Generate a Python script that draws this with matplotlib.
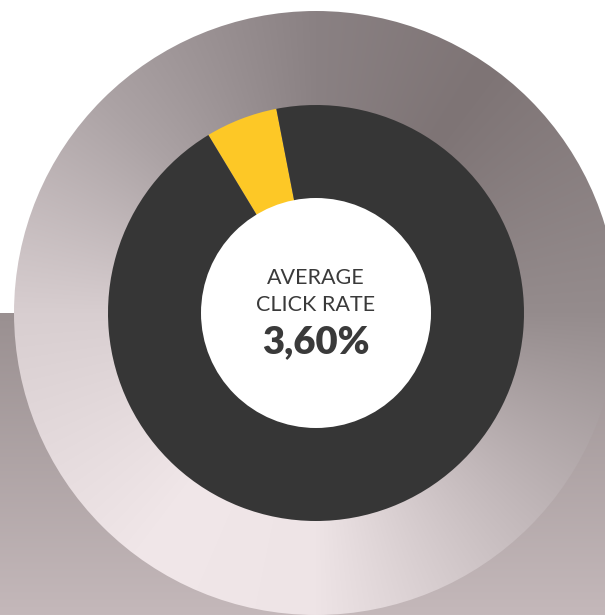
import numpy as np
import matplotlib.pyplot as plt
from matplotlib.patches import Circle
from matplotlib.colors import to_rgb

# 数据
segment_labels = ['clicks', 'rest']
segment_values = [5.6, 94.4]
segment_colors = ['#FDC826', '#363636']
title_lines = ['AVERAGE', 'CLICK RATE']
rate_text = '3,60%'

W, H = 605, 615
fig = plt.figure(figsize=(W / 100, H / 100), dpi=100)
ax = fig.add_axes([0, 0, 1, 1])

cx, cy = 316, H - 313   # 圆心 (像素坐标转换, y 向上)
R_big = 302
R_out = 208
R_in = 115

# 背景下半部分的灰色渐变矩形
rect_top = H - 313
g = np.linspace(0, 1, 256)[:, None]
c_top = np.array(to_rgb('#9A9091'))
c_bot = np.array(to_rgb('#C4B8BA'))
rect_img = c_bot[None, None, :] * (1 - g[..., None]) + c_top[None, None, :] * g[..., None]
rect_img = np.repeat(rect_img, 2, axis=1)
ax.imshow(rect_img, extent=[0, W, 0, rect_top], origin='lower', aspect='auto', zorder=1)

# 大圆: 角度渐变
n = 700
xs = np.linspace(cx - R_big, cx + R_big, n)
ys = np.linspace(cy - R_big, cy + R_big, n)
X, Y = np.meshgrid(xs, ys)
ang = np.degrees(np.arctan2(Y - cy, X - cx)) % 360
stops_a = [0, 55, 90, 135, 180, 235, 270, 315, 360]
stops_c = ['#958C8D', '#7E7475', '#8A8183', '#ACA3A5', '#D8CED0',
           '#F1E7E9', '#EEE4E6', '#C3B9BB', '#958C8D']
stops_rgb = np.array([to_rgb(c) for c in stops_c])
img = np.dstack([np.interp(ang, stops_a, stops_rgb[:, k]) for k in range(3)])
im = ax.imshow(img, extent=[cx - R_big, cx + R_big, cy - R_big, cy + R_big],
               origin='lower', zorder=2)
clip = Circle((cx, cy), R_big, transform=ax.transData)
im.set_clip_path(clip)

# 环形图
wedges, _ = ax.pie(segment_values, colors=segment_colors, startangle=101,
                   counterclock=True, radius=R_out, center=(cx, cy),
                   wedgeprops=dict(width=R_out - R_in + 2, linewidth=0))
for w in wedges:
    w.set_zorder(3)

ax.add_patch(Circle((cx, cy), R_in, color='white', zorder=4, linewidth=0))

# 中心文字
ax.text(cx, H - 278, title_lines[0], ha='center', va='center', fontsize=15.5,
        family='Lato', color='#3A3A3A', zorder=5)
ax.text(cx, H - 305, title_lines[1], ha='center', va='center', fontsize=15.5,
        family='Lato', color='#3A3A3A', zorder=5)
ax.text(cx, H - 342, rate_text, ha='center', va='center', fontsize=27.5,
        family='Lato', fontweight='heavy', color='#3A3A3A', zorder=5)

ax.set_xlim(0, W)
ax.set_ylim(0, H)
ax.set_aspect('auto')
ax.axis('off')

plt.savefig('out.png', dpi=100, facecolor='white')
